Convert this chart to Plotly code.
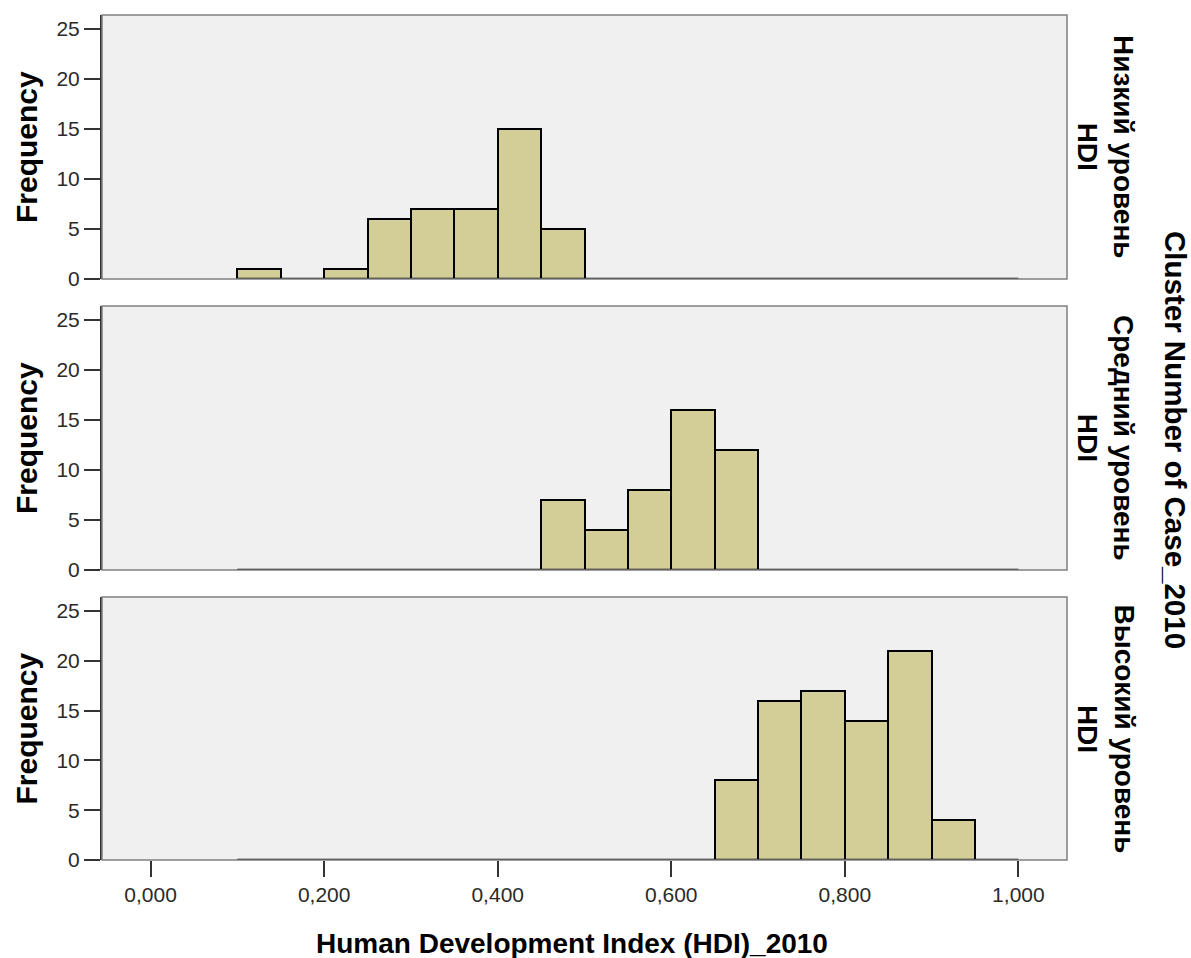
import plotly.graph_objects as go

# ---- data ----
bin_edges = [0.10, 0.15, 0.20, 0.25, 0.30, 0.35, 0.40, 0.45, 0.50, 0.55,
             0.60, 0.65, 0.70, 0.75, 0.80, 0.85, 0.90, 0.95, 1.00]
bin_width = 0.05
low_counts = [1, 0, 1, 6, 7, 7, 15, 5, 0, 0, 0, 0, 0, 0, 0, 0, 0, 0]
mid_counts = [0, 0, 0, 0, 0, 0, 0, 7, 4, 8, 16, 12, 0, 0, 0, 0, 0, 0]
high_counts = [0, 0, 0, 0, 0, 0, 0, 0, 0, 0, 0, 8, 16, 17, 14, 21, 4, 0]
panel_labels = ["Низкий уровень<br>HDI", "Средний уровень<br>HDI", "Высокий уровень<br>HDI"]
x_tickvals = [0.0, 0.2, 0.4, 0.6, 0.8, 1.0]
x_ticktext = ["0,000", "0,200", "0,400", "0,600", "0,800", "1,000"]
y_tickvals = [0, 5, 10, 15, 20, 25]
x_title = "Human Development Index (HDI)_2010"
y_title = "Frequency"
facet_title = "Cluster Number of Case_2010"

# ---- layout geometry (pixels) ----
W, H = 1191, 958
px_x = lambda p: p / W
px_y = lambda p: 1 - p / H
x_dom = [px_x(102), px_x(1067)]
panels_px = [(15, 279), (306, 570), (597, 860)]

BAR_FILL = "#D3CE97"
FONT = "Liberation Sans, Arial, sans-serif"

centers = [e + bin_width / 2 for e in bin_edges[:-1]]
fig = go.Figure()
all_counts = [low_counts, mid_counts, high_counts]

for i, counts in enumerate(all_counts):
    xa = "x" if i == 0 else f"x{i+1}"
    ya = "y" if i == 0 else f"y{i+1}"
    fig.add_trace(go.Scatter(
        x=[bin_edges[0], bin_edges[-1]], y=[0, 0], mode="lines",
        line=dict(color="black", width=2.5), xaxis=xa, yaxis=ya,
        showlegend=False, hoverinfo="skip"))
    fig.add_trace(go.Bar(
        x=centers, y=counts, width=bin_width, xaxis=xa, yaxis=ya,
        marker=dict(color=BAR_FILL, line=dict(color="black", width=2)),
        showlegend=False))

layout = dict(
    width=W, height=H,
    margin=dict(l=0, r=0, t=0, b=0),
    paper_bgcolor="white",
    plot_bgcolor="#F0F0F0",
    bargap=0,
    font=dict(family=FONT, color="#222"),
    shapes=[], annotations=[],
)

for i, (top, bot) in enumerate(panels_px):
    xk = "xaxis" if i == 0 else f"xaxis{i+1}"
    yk = "yaxis" if i == 0 else f"yaxis{i+1}"
    xa = "x" if i == 0 else f"x{i+1}"
    ya = "y" if i == 0 else f"y{i+1}"
    is_bottom = (i == len(panels_px) - 1)
    layout[xk] = dict(
        domain=x_dom, anchor=ya, range=[-0.056, 1.056],
        showgrid=False, zeroline=False, showline=False, automargin=False,
        tickmode="array", tickvals=x_tickvals, ticktext=x_ticktext,
        showticklabels=is_bottom,
        ticks="outside" if is_bottom else "",
        ticklen=16, tickwidth=2, tickcolor="#333",
        tickfont=dict(size=21, family=FONT, color="#2a2a2a"),
    )
    layout[yk] = dict(
        domain=[px_y(bot), px_y(top)], anchor=xa, range=[0, 26.4],
        showgrid=False, zeroline=False, automargin=False,
        showline=True, linecolor="#333", linewidth=2,
        tickmode="array", tickvals=y_tickvals,
        ticks="outside", ticklen=16, tickwidth=2, tickcolor="#333",
        tickfont=dict(size=21, family=FONT, color="#2a2a2a"),
    )
    # panel frame
    layout["shapes"].append(dict(
        type="rect", xref=f"{xa} domain", yref=f"{ya} domain",
        x0=0, x1=1, y0=0, y1=1, line=dict(color="#808080", width=1.5),
        layer="above"))
    cy = px_y((top + bot) / 2)
    layout["annotations"].append(dict(
        text=f"<b>{y_title}</b>", x=px_x(26), y=cy, xref="paper", yref="paper",
        textangle=-90, showarrow=False, xanchor="center", yanchor="middle",
        font=dict(size=30, family=FONT, color="black")))
    layout["annotations"].append(dict(
        text=f"<b>{panel_labels[i]}</b>", x=px_x(1106), y=cy, xref="paper", yref="paper",
        textangle=90, showarrow=False, xanchor="center", yanchor="middle",
        font=dict(size=28, family=FONT, color="black")))

layout["annotations"].append(dict(
    text=f"<b>{facet_title}</b>", x=px_x(1176), y=px_y(440), xref="paper", yref="paper",
    textangle=90, showarrow=False, xanchor="center", yanchor="middle",
    font=dict(size=29.5, family=FONT, color="black")))
layout["annotations"].append(dict(
    text=f"<b>{x_title}</b>", x=px_x(572), y=px_y(943), xref="paper", yref="paper",
    showarrow=False, xanchor="center", yanchor="middle",
    font=dict(size=28, family=FONT, color="black")))

fig.update_layout(**layout)
fig.write_html("out.html")
